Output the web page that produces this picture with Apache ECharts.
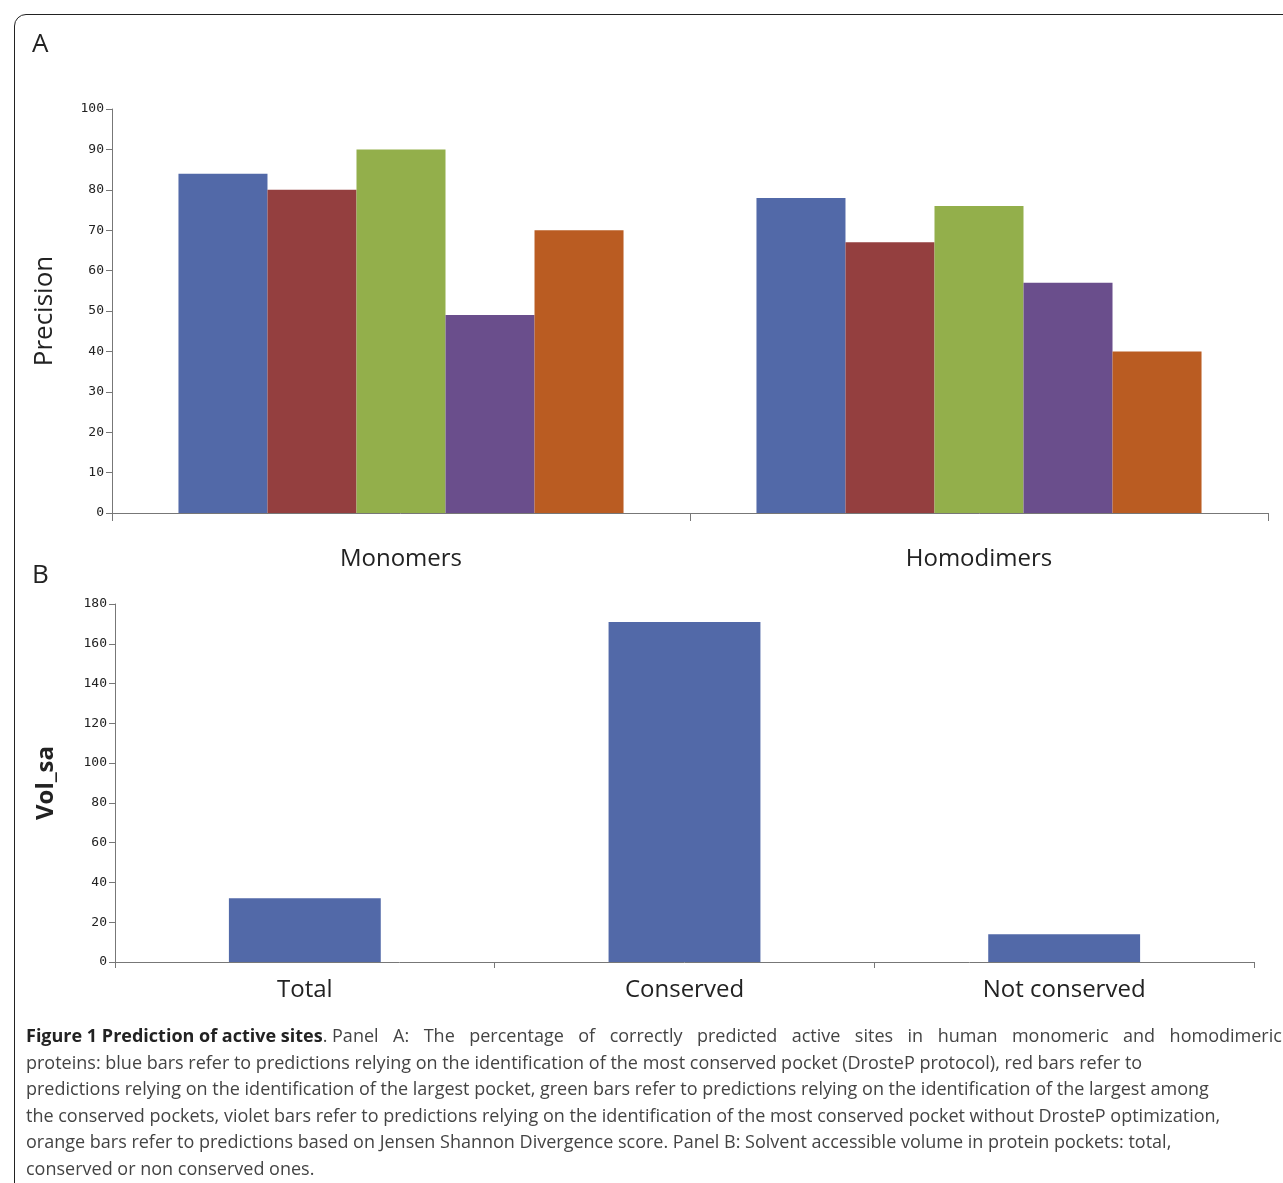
<!DOCTYPE html>
<html><head><meta charset="utf-8">
<script src="https://cdn.jsdelivr.net/npm/echarts@6/dist/echarts.min.js"></script>
<style>
body{margin:0;background:#fff;font-family:"Open Sans",sans-serif}
#frame{position:absolute;left:14px;top:14px;width:1290px;height:1200px;border:1.5px solid #222;border-radius:12px}
#chart{position:absolute;left:0;top:0;width:1283px;height:1183px}
#cap{position:absolute;left:26px;top:1022px;width:1256px;font-size:18px;line-height:26.5px;color:#444;white-space:nowrap}
#cap b{color:#222}
#cap .j{display:flex;justify-content:space-between}
</style></head><body>
<div id="frame"></div>
<div id="chart"></div>
<div id="cap"><div class="j"><span><b>Figure 1 Prediction of active sites</b>. Panel</span><span>A:</span><span>The</span><span>percentage</span><span>of</span><span>correctly</span><span>predicted</span><span>active</span><span>sites</span><span>in</span><span>human</span><span>monomeric</span><span>and</span><span>homodimeric</span></div>
proteins: blue bars refer to predictions relying on the identification of the most conserved pocket (DrosteP protocol), red bars refer to<br>
predictions relying on the identification of the largest pocket, green bars refer to predictions relying on the identification of the largest among<br>
the conserved pockets, violet bars refer to predictions relying on the identification of the most conserved pocket without DrosteP optimization,<br>
orange bars refer to predictions based on Jensen Shannon Divergence score. Panel B: Solvent accessible volume in protein pockets: total,<br>
conserved or non conserved ones.</div>
<script>
var groupsA = ['Monomers', 'Homodimers'];
var blueA = [84, 78];
var redA = [80, 67];
var greenA = [90, 76];
var violetA = [49, 57];
var orangeA = [70, 40];
var catsB = ['Total', 'Conserved', 'Not conserved'];
var volB = [32, 171, 14];

var colors = ['#5269A8', '#943F3F', '#93AF4B', '#6A4E8C', '#BA5C22'];
var tickFont = {fontFamily: 'DejaVu Sans Mono', fontSize: 13, color: '#222'};
var axisLine = {lineStyle: {color: '#777'}};

var chart = echarts.init(document.getElementById('chart'));
function bar(data, i) {
    return {type: 'bar', xAxisIndex: 0, yAxisIndex: 0, data: data, barGap: '0%',
        barCategoryGap: '23%', itemStyle: {color: colors[i]}};
}
var seriesA = [blueA, redA, greenA, violetA, orangeA].map(bar);
seriesA.push({type: 'bar', xAxisIndex: 1, yAxisIndex: 1, data: volB, barWidth: '40%',
    itemStyle: {color: colors[0]}});

chart.setOption({
    animation: false,
    grid: [
        {left: 112, top: 109, width: 1156, height: 404},
        {left: 115, top: 604, width: 1139, height: 358}
    ],
    graphic: [
        {type: 'text', left: 32, top: 32, style: {text: 'A', fontSize: 26, fill: '#222', fontFamily: 'Open Sans'}},
        {type: 'text', left: 32, top: 563, style: {text: 'B', fontSize: 26, fill: '#222', fontFamily: 'Open Sans'}}
    ],
    xAxis: [
        {type: 'category', gridIndex: 0, data: groupsA, axisLine: axisLine,
            axisTick: {show: true, length: 8, lineStyle: {color: '#777'}},
            axisLabel: {fontSize: 24, color: '#222', margin: 34, fontFamily: 'Open Sans'}},
        {type: 'category', gridIndex: 1, data: catsB, axisLine: axisLine,
            axisTick: {show: true, length: 6, lineStyle: {color: '#777'}},
            axisLabel: {fontSize: 24, color: '#222', margin: 16, fontFamily: 'Open Sans'}}
    ],
    yAxis: [
        {type: 'value', gridIndex: 0, min: 0, max: 100, interval: 10, splitLine: {show: false},
            axisLine: {show: true, lineStyle: {color: '#777'}}, axisTick: {show: true, length: 6},
            axisLabel: tickFont, name: 'Precision', nameLocation: 'middle', nameGap: 54,
            nameTextStyle: {fontSize: 26, color: '#222', fontFamily: 'Open Sans'}},
        {type: 'value', gridIndex: 1, min: 0, max: 180, interval: 20, splitLine: {show: false},
            axisLine: {show: true, lineStyle: {color: '#777'}}, axisTick: {show: true, length: 6},
            axisLabel: tickFont, name: 'Vol_sa', nameLocation: 'middle', nameGap: 57,
            nameTextStyle: {fontSize: 24, fontWeight: 'bold', color: '#222', fontFamily: 'Open Sans'}}
    ],
    series: seriesA
});
</script>
</body></html>
